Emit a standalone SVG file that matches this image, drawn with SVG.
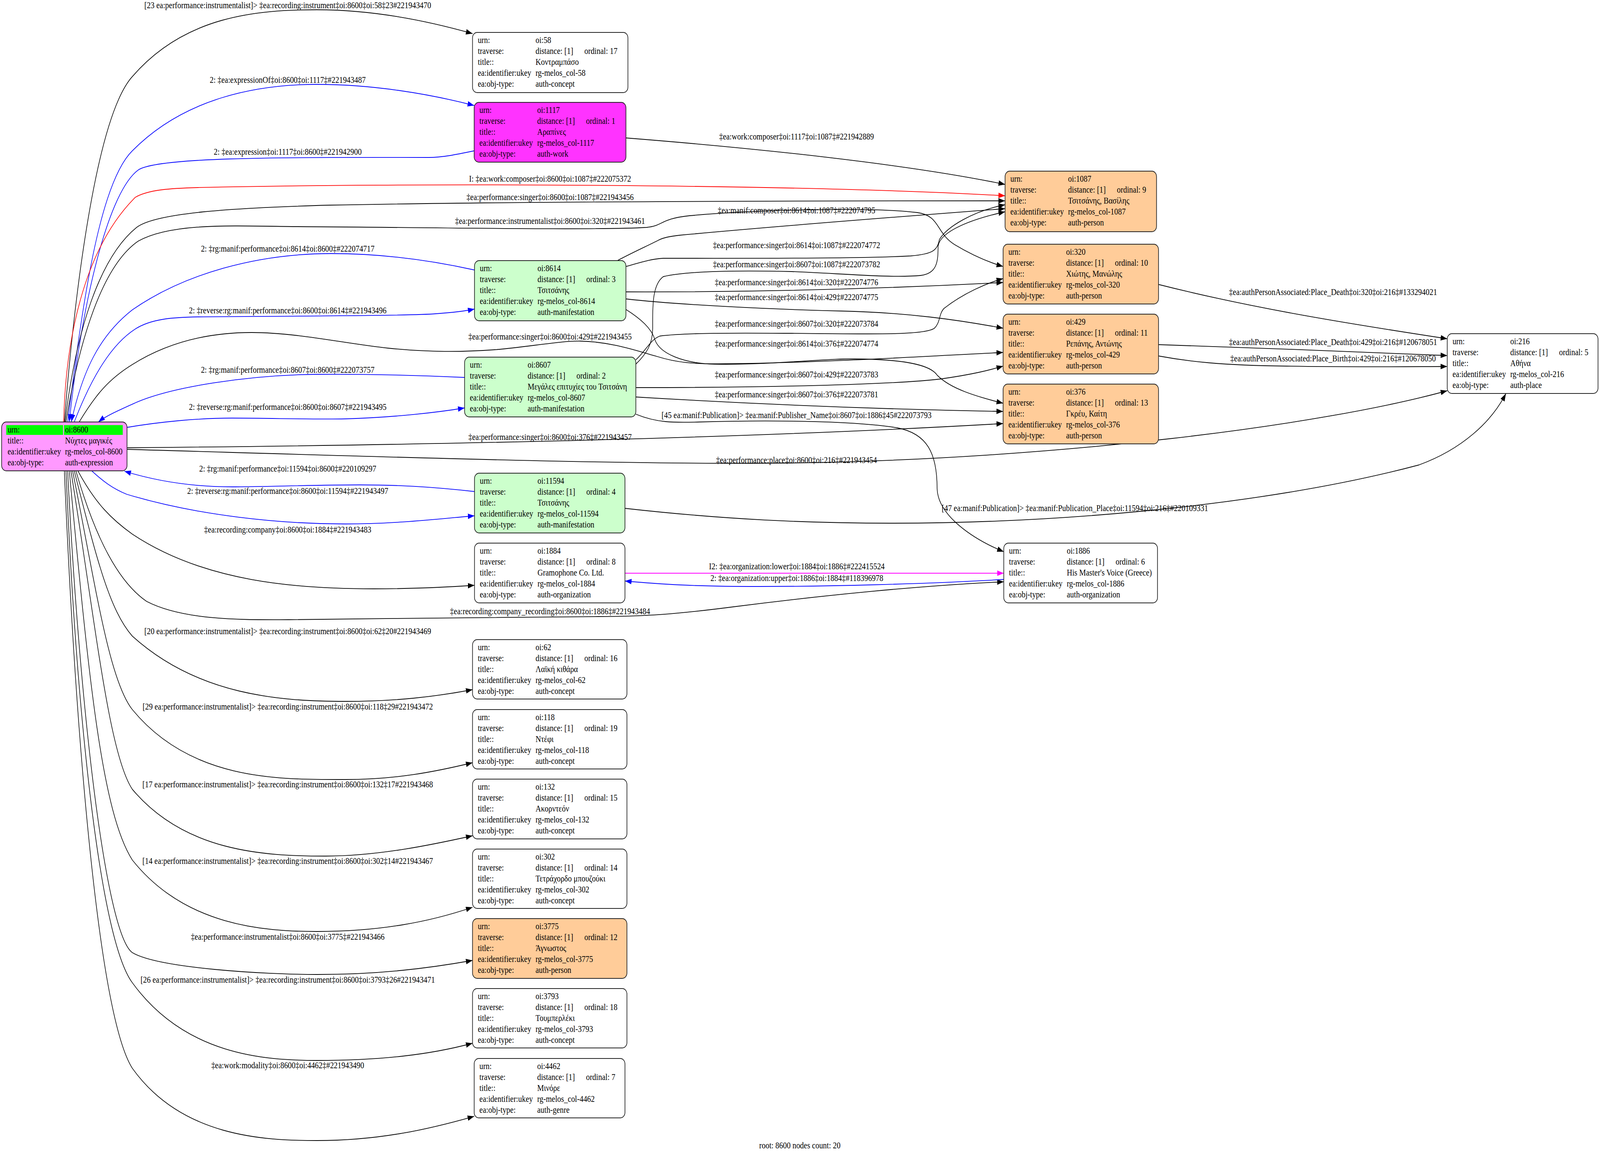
<svg xmlns="http://www.w3.org/2000/svg" width="4849" height="2956" viewBox="0 0 4849 2956" preserveAspectRatio="none">
<style>
svg{width:100vw;height:100vh}
text{font-family:"Liberation Serif","DejaVu Serif",serif;font-size:23px;fill:#000}
.m{text-anchor:middle}
.nb{stroke:#222;stroke-width:2}
.e{fill:none;stroke:#000;stroke-width:1.8}
.b{stroke:#0000ff}
.r{stroke:#ff0000}
.g{stroke:#ff00ff}
.w{fill:#ffffff}.mg{fill:#ff33ff}.gr{fill:#ccffcc}.or{fill:#ffcc99}.pk{fill:#ff99ff}
</style>
<defs>
<marker id="ak" markerUnits="userSpaceOnUse" markerWidth="24" markerHeight="16" refX="20" refY="7" orient="auto"><path d="M0,0 L20,7 L0,14 z" fill="#000"/></marker>
<marker id="ab" markerUnits="userSpaceOnUse" markerWidth="24" markerHeight="16" refX="20" refY="7" orient="auto"><path d="M0,0 L20,7 L0,14 z" fill="#0000ff"/></marker>
<marker id="ar" markerUnits="userSpaceOnUse" markerWidth="24" markerHeight="16" refX="20" refY="7" orient="auto"><path d="M0,0 L20,7 L0,14 z" fill="#ff0000"/></marker>
<marker id="ag" markerUnits="userSpaceOnUse" markerWidth="24" markerHeight="16" refX="20" refY="7" orient="auto"><path d="M0,0 L20,7 L0,14 z" fill="#ff00ff"/></marker>
</defs>
<rect x="0" y="0" width="4849" height="2956" fill="#ffffff"/>
<g id="connectors">
<path class="e" marker-end="url(#ak)" d="M195,1080 C225,760 290,300 401,196 C560,40 780,25 961,25 C1130,25 1290,52 1432,86"/>
<path class="e b" marker-end="url(#ab)" d="M205,1080 C250,780 300,470 401,386 C560,250 780,216 961,216 C1130,216 1300,240 1437,270"/>
<path class="e b" marker-end="url(#ab)" d="M1437,386 C1380,396 1340,403 1300,403 C900,403 480,400 419,435 C330,490 250,760 210,1080"/>
<path class="e r" marker-end="url(#ar)" d="M193,1080 C198,880 250,640 410,505 C450,485 520,482 600,480 C1200,468 2400,470 3046,501"/>
<path class="e" marker-end="url(#ak)" d="M197,1080 C230,850 300,660 414,582 C470,545 700,532 1000,525 C1600,515 2400,514 3046,514"/>
<path class="e" marker-end="url(#ak)" d="M200,1080 C240,870 310,680 419,617 C520,570 700,578 900,580 C1300,582 1800,590 1960,582 C2010,578 2000,560 2090,552 C2300,536 2650,530 2780,544 C2850,552 2835,595 2893,626 C2950,655 3000,672 3040,682"/>
<path class="e b" marker-end="url(#ab)" d="M1438,691 C1300,665 1150,649 1004,649 C780,649 560,700 401,793 C300,860 250,950 216,1080"/>
<path class="e b" marker-end="url(#ab)" d="M225,1080 C280,960 340,880 410,842 C460,815 530,812 600,811 C900,809 1250,808 1320,803 C1370,800 1410,796 1438,791"/>
<path class="e" marker-end="url(#ak)" d="M240,1080 C290,1010 330,970 401,933 C520,870 650,851 763,851 C900,851 1050,880 1176,891 C1300,902 1400,901 1500,895 C1600,888 1700,872 1760,873 C1850,875 1920,895 1990,912 C2050,928 2100,932 2200,931 C2500,928 2800,912 3040,902"/>
<path class="e b" marker-end="url(#ab)" d="M1408,966 C1250,960 1100,957 961,958 C750,960 520,990 410,1031 C360,1050 320,1065 298,1080"/>
<path class="e b" marker-end="url(#ab)" d="M384,1094 C480,1080 600,1070 703,1070 C820,1070 950,1074 1047,1072 C1200,1068 1330,1055 1408,1044"/>
<path class="e" marker-end="url(#ak)" d="M385,1146 C1200,1140 2200,1125 3040,1084"/>
<path class="e" marker-end="url(#ak)" d="M385,1150 C1200,1170 1900,1190 2400,1185 C3200,1175 4000,1090 4386,1000"/>
<path class="e b" marker-end="url(#ab)" d="M1438,1258 C1300,1245 1200,1241 1090,1241 C950,1241 800,1246 703,1246 C560,1246 450,1225 377,1206"/>
<path class="e b" marker-end="url(#ab)" d="M278,1205 C310,1230 340,1250 384,1265 C600,1320 850,1341 1047,1341 C1200,1341 1330,1328 1438,1320"/>
<path class="e" marker-end="url(#ak)" d="M236,1205 C290,1290 340,1330 401,1367 C620,1490 900,1507 1133,1507 C1250,1507 1350,1503 1438,1498"/>
<path class="e" marker-end="url(#ak)" d="M230,1205 C290,1380 360,1490 444,1539 C560,1590 750,1586 875,1586 C1200,1583 1650,1578 1811,1578 C1950,1578 2050,1572 2223,1553 C2500,1523 2800,1498 3042,1489"/>
<path class="e" marker-end="url(#ak)" d="M225,1205 C290,1420 330,1560 401,1628 C600,1780 850,1795 1047,1795 C1200,1795 1320,1783 1432,1765"/>
<path class="e" marker-end="url(#ak)" d="M220,1205 C290,1500 330,1740 401,1816 C580,2000 850,1995 1047,1995 C1200,1995 1320,1975 1432,1952"/>
<path class="e" marker-end="url(#ak)" d="M215,1205 C290,1600 330,1930 401,2020 C560,2180 800,2191 987,2191 C1150,2191 1320,2160 1432,2139"/>
<path class="e" marker-end="url(#ak)" d="M210,1205 C270,1750 310,2080 401,2201 C560,2370 800,2384 961,2384 C1150,2384 1300,2360 1432,2322"/>
<path class="e" marker-end="url(#ak)" d="M205,1205 C240,1800 320,2390 401,2438 C480,2478 800,2494 961,2494 C1150,2494 1300,2478 1432,2458"/>
<path class="e" marker-end="url(#ak)" d="M200,1205 C230,1800 300,2400 401,2515 C560,2700 800,2714 961,2714 C1150,2714 1300,2700 1432,2670"/>
<path class="e" marker-end="url(#ak)" d="M195,1205 C230,1900 300,2600 401,2734 C550,2910 800,2919 961,2919 C1150,2919 1300,2890 1437,2857"/>
<path class="e" marker-end="url(#ak)" d="M1897,353 C2300,380 2750,420 3046,472"/>
<path class="e" marker-end="url(#ak)" d="M1871,667 C1920,645 1960,630 1995,615 C2010,608 2030,605 2060,602 C2400,575 2800,550 3046,534"/>
<path class="e" marker-end="url(#ak)" d="M1897,682 C1940,672 1970,663 2010,661 C2300,661 2600,662 2760,655 C2830,650 2840,640 2847,613 C2870,580 2950,540 3046,524"/>
<path class="e" marker-end="url(#ak)" d="M1927,932 C1960,905 1978,880 1978,840 C1978,790 1975,730 2010,708 C2100,690 2300,693 2400,695 C2550,700 2700,712 2790,705 C2840,700 2843,670 2843,630 C2850,590 2950,560 3046,542"/>
<path class="e" marker-end="url(#ak)" d="M1897,747 C2300,748 2700,738 3040,723"/>
<path class="e" marker-end="url(#ak)" d="M1897,765 C2050,780 2350,792 2549,796 C2750,800 2900,818 3040,840"/>
<path class="e" marker-end="url(#ak)" d="M1927,921 C1960,895 1970,870 2000,860 C2100,850 2300,853 2400,853 C2600,854 2800,860 2832,840 C2850,825 2845,805 2860,790 C2920,750 2990,725 3040,713"/>
<path class="e" marker-end="url(#ak)" d="M1897,792 C1940,815 1975,840 1985,870 C2000,905 2070,930 2166,932 C2350,935 2500,915 2625,919 C2750,922 2820,935 2840,960 C2880,995 2960,1015 3040,1032"/>
<path class="e" marker-end="url(#ak)" d="M1927,992 C2300,992 2700,985 2850,970 C2950,958 3000,947 3040,937"/>
<path class="e" marker-end="url(#ak)" d="M1927,1016 C2300,1035 2700,1048 3040,1053"/>
<path class="e" marker-end="url(#ak)" d="M1927,1060 C1990,1082 2040,1082 2120,1080 C2350,1074 2600,1078 2720,1095 C2810,1110 2840,1160 2840,1250 C2842,1320 2950,1380 3042,1412"/>
<path class="e" marker-end="url(#ak)" d="M1894,1301 C2200,1330 2450,1339 2700,1339 C3300,1339 3900,1280 4300,1190 C4430,1150 4520,1080 4564,1007"/>
<path class="e" marker-end="url(#ak)" d="M3511,728 C3800,790 4100,830 4386,867"/>
<path class="e" marker-end="url(#ak)" d="M3511,882 C3800,890 4100,900 4386,910"/>
<path class="e" marker-end="url(#ak)" d="M3511,911 C3600,925 3700,935 3900,937 C4100,940 4300,938 4386,938"/>
<path class="e g" marker-end="url(#ag)" d="M1894,1467 L3042,1467"/>
<path class="e b" marker-end="url(#ab)" d="M3042,1483 C2800,1495 2500,1501 2300,1501 C2100,1501 2000,1495 1894,1487"/>
<text class="m" x="872" y="21">[23 ea:performance:instrumentalist]&gt; ‡ea:recording:instrument‡oi:8600‡oi:58‡23#221943470</text>
<text class="m" x="872" y="212">2: ‡ea:expressionOf‡oi:8600‡oi:1117‡#221943487</text>
<text class="m" x="872" y="396">2: ‡ea:expression‡oi:1117‡oi:8600‡#221942900</text>
<text class="m" x="1667" y="465">I: ‡ea:work:composer‡oi:8600‡oi:1087‡#222075372</text>
<text class="m" x="1667" y="512">‡ea:performance:singer‡oi:8600‡oi:1087‡#221943456</text>
<text class="m" x="1667" y="573">‡ea:performance:instrumentalist‡oi:8600‡oi:320‡#221943461</text>
<text class="m" x="872" y="644">2: ‡rg:manif:performance‡oi:8614‡oi:8600‡#222074717</text>
<text class="m" x="872" y="802">2: ‡reverse:rg:manif:performance‡oi:8600‡oi:8614‡#221943496</text>
<text class="m" x="1667" y="869">‡ea:performance:singer‡oi:8600‡oi:429‡#221943455</text>
<text class="m" x="872" y="954">2: ‡rg:manif:performance‡oi:8607‡oi:8600‡#222073757</text>
<text class="m" x="872" y="1049">2: ‡reverse:rg:manif:performance‡oi:8600‡oi:8607‡#221943495</text>
<text class="m" x="1667" y="1126">‡ea:performance:singer‡oi:8600‡oi:376‡#221943457</text>
<text class="m" x="2414" y="1185">‡ea:performance:place‡oi:8600‡oi:216‡#221943454</text>
<text class="m" x="872" y="1207">2: ‡rg:manif:performance‡oi:11594‡oi:8600‡#220109297</text>
<text class="m" x="872" y="1264">2: ‡reverse:rg:manif:performance‡oi:8600‡oi:11594‡#221943497</text>
<text class="m" x="872" y="1363">‡ea:recording:company‡oi:8600‡oi:1884‡#221943483</text>
<text class="m" x="1667" y="1572">‡ea:recording:company_recording‡oi:8600‡oi:1886‡#221943484</text>
<text class="m" x="872" y="1623">[20 ea:performance:instrumentalist]&gt; ‡ea:recording:instrument‡oi:8600‡oi:62‡20#221943469</text>
<text class="m" x="872" y="1816">[29 ea:performance:instrumentalist]&gt; ‡ea:recording:instrument‡oi:8600‡oi:118‡29#221943472</text>
<text class="m" x="872" y="2015">[17 ea:performance:instrumentalist]&gt; ‡ea:recording:instrument‡oi:8600‡oi:132‡17#221943468</text>
<text class="m" x="872" y="2211">[14 ea:performance:instrumentalist]&gt; ‡ea:recording:instrument‡oi:8600‡oi:302‡14#221943467</text>
<text class="m" x="872" y="2405">‡ea:performance:instrumentalist‡oi:8600‡oi:3775‡#221943466</text>
<text class="m" x="872" y="2515">[26 ea:performance:instrumentalist]&gt; ‡ea:recording:instrument‡oi:8600‡oi:3793‡26#221943471</text>
<text class="m" x="872" y="2734">‡ea:work:modality‡oi:8600‡oi:4462‡#221943490</text>
<text class="m" x="2414" y="357">‡ea:work:composer‡oi:1117‡oi:1087‡#221942889</text>
<text class="m" x="2414" y="546">‡ea:manif:composer‡oi:8614‡oi:1087‡#222074795</text>
<text class="m" x="2414" y="635">‡ea:performance:singer‡oi:8614‡oi:1087‡#222074772</text>
<text class="m" x="2414" y="684">‡ea:performance:singer‡oi:8607‡oi:1087‡#222073782</text>
<text class="m" x="2414" y="730">‡ea:performance:singer‡oi:8614‡oi:320‡#222074776</text>
<text class="m" x="2414" y="768">‡ea:performance:singer‡oi:8614‡oi:429‡#222074775</text>
<text class="m" x="2414" y="836">‡ea:performance:singer‡oi:8607‡oi:320‡#222073784</text>
<text class="m" x="2414" y="887">‡ea:performance:singer‡oi:8614‡oi:376‡#222074774</text>
<text class="m" x="2414" y="966">‡ea:performance:singer‡oi:8607‡oi:429‡#222073783</text>
<text class="m" x="2414" y="1017">‡ea:performance:singer‡oi:8607‡oi:376‡#222073781</text>
<text class="m" x="2414" y="1070">[45 ea:manif:Publication]&gt; ‡ea:manif:Publisher_Name‡oi:8607‡oi:1886‡45#222073793</text>
<text x="2854" y="1308">[47 ea:manif:Publication]&gt; ‡ea:manif:Publication_Place‡oi:11594‡oi:216‡#220109331</text>
<text class="m" x="4040" y="755">‡ea:authPersonAssociated:Place_Death‡oi:320‡oi:216‡#133294021</text>
<text class="m" x="4040" y="883">‡ea:authPersonAssociated:Place_Death‡oi:429‡oi:216‡#120678051</text>
<text class="m" x="4040" y="925">‡ea:authPersonAssociated:Place_Birth‡oi:429‡oi:216‡#120678050</text>
<text class="m" x="2415" y="1457">I2: ‡ea:organization:lower‡oi:1884‡oi:1886‡#222415524</text>
<text class="m" x="2415" y="1487">2: ‡ea:organization:upper‡oi:1886‡oi:1884‡#118396978</text>
</g>
<g id="n8600"><rect class="nb pk" x="5" y="1080" width="380" height="125" rx="14"/>
<rect x="19" y="1088" width="172" height="25" fill="#00ff00"/><rect x="194" y="1088" width="178" height="25" fill="#00ff00"/>
<text x="23" y="1107">urn:</text><text x="197" y="1107">oi:8600</text>
<text x="23" y="1135">title::</text><text x="197" y="1135">Νύχτες μαγικές</text>
<text x="23" y="1163">ea:identifier:ukey</text><text x="197" y="1163">rg-melos_col-8600</text>
<text x="23" y="1191">ea:obj-type:</text><text x="197" y="1191">auth-expression</text></g>
<g id="n58"><rect class="nb w" x="1432" y="83" width="471" height="154" rx="14"/>
<text x="1448" y="110">urn:</text><text x="1623" y="110">oi:58</text>
<text x="1448" y="138">traverse:</text><text x="1623" y="138">distance: [1]</text><text x="1771" y="138">ordinal: 17</text>
<text x="1448" y="166">title::</text><text x="1623" y="166">Κοντραμπάσο</text>
<text x="1448" y="194">ea:identifier:ukey</text><text x="1623" y="194">rg-melos_col-58</text>
<text x="1448" y="222">ea:obj-type:</text><text x="1623" y="222">auth-concept</text></g>
<g id="n1117"><rect class="nb mg" x="1437" y="262" width="460" height="153" rx="14"/>
<text x="1453" y="289">urn:</text><text x="1628" y="289">oi:1117</text>
<text x="1453" y="317">traverse:</text><text x="1628" y="317">distance: [1]</text><text x="1776" y="317">ordinal: 1</text>
<text x="1453" y="345">title::</text><text x="1628" y="345">Αραπίνες</text>
<text x="1453" y="373">ea:identifier:ukey</text><text x="1628" y="373">rg-melos_col-1117</text>
<text x="1453" y="401">ea:obj-type:</text><text x="1628" y="401">auth-work</text></g>
<g id="n8614"><rect class="nb gr" x="1438" y="667" width="459" height="154" rx="14"/>
<text x="1454" y="694">urn:</text><text x="1629" y="694">oi:8614</text>
<text x="1454" y="722">traverse:</text><text x="1629" y="722">distance: [1]</text><text x="1777" y="722">ordinal: 3</text>
<text x="1454" y="750">title::</text><text x="1629" y="750">Τσιτσάνης</text>
<text x="1454" y="778">ea:identifier:ukey</text><text x="1629" y="778">rg-melos_col-8614</text>
<text x="1454" y="806">ea:obj-type:</text><text x="1629" y="806">auth-manifestation</text></g>
<g id="n8607"><rect class="nb gr" x="1408" y="914" width="519" height="153" rx="14"/>
<text x="1424" y="941">urn:</text><text x="1599" y="941">oi:8607</text>
<text x="1424" y="969">traverse:</text><text x="1599" y="969">distance: [1]</text><text x="1747" y="969">ordinal: 2</text>
<text x="1424" y="997">title::</text><text x="1599" y="997">Μεγάλες επιτυχίες του Τσιτσάνη</text>
<text x="1424" y="1025">ea:identifier:ukey</text><text x="1599" y="1025">rg-melos_col-8607</text>
<text x="1424" y="1053">ea:obj-type:</text><text x="1599" y="1053">auth-manifestation</text></g>
<g id="n11594"><rect class="nb gr" x="1438" y="1211" width="456" height="153" rx="14"/>
<text x="1454" y="1238">urn:</text><text x="1629" y="1238">oi:11594</text>
<text x="1454" y="1266">traverse:</text><text x="1629" y="1266">distance: [1]</text><text x="1777" y="1266">ordinal: 4</text>
<text x="1454" y="1294">title::</text><text x="1629" y="1294">Τσιτσάνης</text>
<text x="1454" y="1322">ea:identifier:ukey</text><text x="1629" y="1322">rg-melos_col-11594</text>
<text x="1454" y="1350">ea:obj-type:</text><text x="1629" y="1350">auth-manifestation</text></g>
<g id="n1884"><rect class="nb w" x="1438" y="1390" width="456" height="153" rx="14"/>
<text x="1454" y="1417">urn:</text><text x="1629" y="1417">oi:1884</text>
<text x="1454" y="1445">traverse:</text><text x="1629" y="1445">distance: [1]</text><text x="1777" y="1445">ordinal: 8</text>
<text x="1454" y="1473">title::</text><text x="1629" y="1473">Gramophone Co. Ltd.</text>
<text x="1454" y="1501">ea:identifier:ukey</text><text x="1629" y="1501">rg-melos_col-1884</text>
<text x="1454" y="1529">ea:obj-type:</text><text x="1629" y="1529">auth-organization</text></g>
<g id="n1886"><rect class="nb w" x="3042" y="1390" width="466" height="153" rx="14"/>
<text x="3058" y="1417">urn:</text><text x="3233" y="1417">oi:1886</text>
<text x="3058" y="1445">traverse:</text><text x="3233" y="1445">distance: [1]</text><text x="3381" y="1445">ordinal: 6</text>
<text x="3058" y="1473">title::</text><text x="3233" y="1473">His Master's Voice (Greece)</text>
<text x="3058" y="1501">ea:identifier:ukey</text><text x="3233" y="1501">rg-melos_col-1886</text>
<text x="3058" y="1529">ea:obj-type:</text><text x="3233" y="1529">auth-organization</text></g>
<g id="n62"><rect class="nb w" x="1432" y="1637" width="468" height="152" rx="14"/>
<text x="1448" y="1664">urn:</text><text x="1623" y="1664">oi:62</text>
<text x="1448" y="1692">traverse:</text><text x="1623" y="1692">distance: [1]</text><text x="1771" y="1692">ordinal: 16</text>
<text x="1448" y="1720">title::</text><text x="1623" y="1720">Λαϊκή κιθάρα</text>
<text x="1448" y="1748">ea:identifier:ukey</text><text x="1623" y="1748">rg-melos_col-62</text>
<text x="1448" y="1776">ea:obj-type:</text><text x="1623" y="1776">auth-concept</text></g>
<g id="n118"><rect class="nb w" x="1432" y="1816" width="468" height="152" rx="14"/>
<text x="1448" y="1843">urn:</text><text x="1623" y="1843">oi:118</text>
<text x="1448" y="1871">traverse:</text><text x="1623" y="1871">distance: [1]</text><text x="1771" y="1871">ordinal: 19</text>
<text x="1448" y="1899">title::</text><text x="1623" y="1899">Ντέφι</text>
<text x="1448" y="1927">ea:identifier:ukey</text><text x="1623" y="1927">rg-melos_col-118</text>
<text x="1448" y="1955">ea:obj-type:</text><text x="1623" y="1955">auth-concept</text></g>
<g id="n132"><rect class="nb w" x="1432" y="1994" width="468" height="153" rx="14"/>
<text x="1448" y="2021">urn:</text><text x="1623" y="2021">oi:132</text>
<text x="1448" y="2049">traverse:</text><text x="1623" y="2049">distance: [1]</text><text x="1771" y="2049">ordinal: 15</text>
<text x="1448" y="2077">title::</text><text x="1623" y="2077">Ακορντεόν</text>
<text x="1448" y="2105">ea:identifier:ukey</text><text x="1623" y="2105">rg-melos_col-132</text>
<text x="1448" y="2133">ea:obj-type:</text><text x="1623" y="2133">auth-concept</text></g>
<g id="n302"><rect class="nb w" x="1432" y="2173" width="468" height="152" rx="14"/>
<text x="1448" y="2200">urn:</text><text x="1623" y="2200">oi:302</text>
<text x="1448" y="2228">traverse:</text><text x="1623" y="2228">distance: [1]</text><text x="1771" y="2228">ordinal: 14</text>
<text x="1448" y="2256">title::</text><text x="1623" y="2256">Τετράχορδο μπουζούκι</text>
<text x="1448" y="2284">ea:identifier:ukey</text><text x="1623" y="2284">rg-melos_col-302</text>
<text x="1448" y="2312">ea:obj-type:</text><text x="1623" y="2312">auth-concept</text></g>
<g id="n3775"><rect class="nb or" x="1432" y="2351" width="468" height="153" rx="14"/>
<text x="1448" y="2378">urn:</text><text x="1623" y="2378">oi:3775</text>
<text x="1448" y="2406">traverse:</text><text x="1623" y="2406">distance: [1]</text><text x="1771" y="2406">ordinal: 12</text>
<text x="1448" y="2434">title::</text><text x="1623" y="2434">Άγνωστος</text>
<text x="1448" y="2462">ea:identifier:ukey</text><text x="1623" y="2462">rg-melos_col-3775</text>
<text x="1448" y="2490">ea:obj-type:</text><text x="1623" y="2490">auth-person</text></g>
<g id="n3793"><rect class="nb w" x="1432" y="2530" width="468" height="152" rx="14"/>
<text x="1448" y="2557">urn:</text><text x="1623" y="2557">oi:3793</text>
<text x="1448" y="2585">traverse:</text><text x="1623" y="2585">distance: [1]</text><text x="1771" y="2585">ordinal: 18</text>
<text x="1448" y="2613">title::</text><text x="1623" y="2613">Τουμπερλέκι</text>
<text x="1448" y="2641">ea:identifier:ukey</text><text x="1623" y="2641">rg-melos_col-3793</text>
<text x="1448" y="2669">ea:obj-type:</text><text x="1623" y="2669">auth-concept</text></g>
<g id="n4462"><rect class="nb w" x="1437" y="2709" width="457" height="152" rx="14"/>
<text x="1453" y="2736">urn:</text><text x="1628" y="2736">oi:4462</text>
<text x="1453" y="2764">traverse:</text><text x="1628" y="2764">distance: [1]</text><text x="1776" y="2764">ordinal: 7</text>
<text x="1453" y="2792">title::</text><text x="1628" y="2792">Μινόρε</text>
<text x="1453" y="2820">ea:identifier:ukey</text><text x="1628" y="2820">rg-melos_col-4462</text>
<text x="1453" y="2848">ea:obj-type:</text><text x="1628" y="2848">auth-genre</text></g>
<g id="n1087"><rect class="nb or" x="3046" y="438" width="459" height="155" rx="14"/>
<text x="3062" y="465">urn:</text><text x="3237" y="465">oi:1087</text>
<text x="3062" y="493">traverse:</text><text x="3237" y="493">distance: [1]</text><text x="3385" y="493">ordinal: 9</text>
<text x="3062" y="521">title::</text><text x="3237" y="521">Τσιτσάνης, Βασίλης</text>
<text x="3062" y="549">ea:identifier:ukey</text><text x="3237" y="549">rg-melos_col-1087</text>
<text x="3062" y="577">ea:obj-type:</text><text x="3237" y="577">auth-person</text></g>
<g id="n320"><rect class="nb or" x="3040" y="625" width="471" height="153" rx="14"/>
<text x="3056" y="652">urn:</text><text x="3231" y="652">oi:320</text>
<text x="3056" y="680">traverse:</text><text x="3231" y="680">distance: [1]</text><text x="3379" y="680">ordinal: 10</text>
<text x="3056" y="708">title::</text><text x="3231" y="708">Χιώτης, Μανώλης</text>
<text x="3056" y="736">ea:identifier:ukey</text><text x="3231" y="736">rg-melos_col-320</text>
<text x="3056" y="764">ea:obj-type:</text><text x="3231" y="764">auth-person</text></g>
<g id="n429"><rect class="nb or" x="3040" y="804" width="471" height="153" rx="14"/>
<text x="3056" y="831">urn:</text><text x="3231" y="831">oi:429</text>
<text x="3056" y="859">traverse:</text><text x="3231" y="859">distance: [1]</text><text x="3379" y="859">ordinal: 11</text>
<text x="3056" y="887">title::</text><text x="3231" y="887">Ρεπάνης, Αντώνης</text>
<text x="3056" y="915">ea:identifier:ukey</text><text x="3231" y="915">rg-melos_col-429</text>
<text x="3056" y="943">ea:obj-type:</text><text x="3231" y="943">auth-person</text></g>
<g id="n376"><rect class="nb or" x="3040" y="983" width="471" height="153" rx="14"/>
<text x="3056" y="1010">urn:</text><text x="3231" y="1010">oi:376</text>
<text x="3056" y="1038">traverse:</text><text x="3231" y="1038">distance: [1]</text><text x="3379" y="1038">ordinal: 13</text>
<text x="3056" y="1066">title::</text><text x="3231" y="1066">Γκρέυ, Καίτη</text>
<text x="3056" y="1094">ea:identifier:ukey</text><text x="3231" y="1094">rg-melos_col-376</text>
<text x="3056" y="1122">ea:obj-type:</text><text x="3231" y="1122">auth-person</text></g>
<g id="n216"><rect class="nb w" x="4386" y="854" width="457" height="153" rx="14"/>
<text x="4402" y="881">urn:</text><text x="4577" y="881">oi:216</text>
<text x="4402" y="909">traverse:</text><text x="4577" y="909">distance: [1]</text><text x="4725" y="909">ordinal: 5</text>
<text x="4402" y="937">title::</text><text x="4577" y="937">Αθήνα</text>
<text x="4402" y="965">ea:identifier:ukey</text><text x="4577" y="965">rg-melos_col-216</text>
<text x="4402" y="993">ea:obj-type:</text><text x="4577" y="993">auth-place</text></g>
<text class="m" x="2424" y="2939">root: 8600 nodes count: 20</text>
</svg>
